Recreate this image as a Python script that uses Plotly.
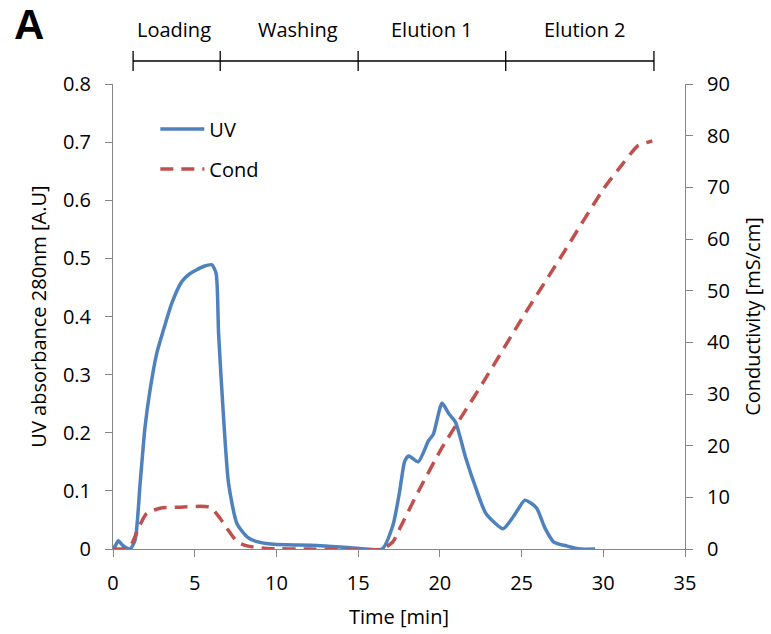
import plotly.graph_objects as go

# UV trace (time [min], absorbance [A.U])
uv_t = [0.0, 0.15, 0.33, 0.6, 1.04, 1.35, 1.66, 1.96, 2.27, 2.68, 3.09, 3.6, 4.21, 4.72, 5.54, 6.05,
        6.31, 6.46, 6.76, 7.07, 7.58, 8.2, 8.81, 9.83, 12.5, 15.1, 16.46, 17.13, 17.54, 17.85, 18.1,
        18.68, 19.3, 19.61, 20.13, 20.54, 20.96, 21.58, 22.2, 22.82, 23.86, 24.48, 25.2, 25.52, 25.93,
        26.45, 26.97, 27.79, 28.6, 29.5]
uv_v = [0.0, 0.006, 0.014, 0.006, 0.0, 0.015, 0.113, 0.21, 0.274, 0.337, 0.377, 0.423, 0.46, 0.474,
        0.486, 0.489, 0.474, 0.371, 0.228, 0.113, 0.044, 0.021, 0.0126, 0.008, 0.006, 0.001, 0.0, 0.041,
        0.099, 0.151, 0.160, 0.150, 0.186, 0.198, 0.251, 0.233, 0.218, 0.157, 0.105, 0.061, 0.035,
        0.055, 0.084, 0.080, 0.070, 0.035, 0.012, 0.005, 0.0, 0.0]

# Conductivity trace (time [min], mS/cm)
cond_t = [0.0, 1.0, 1.55, 2.06, 2.88, 4.0, 5.95, 6.56, 6.97, 7.6, 8.2, 9.4, 12.0, 16.46, 17.13, 17.6,
          18.68, 20.13, 21.5, 22.6, 25.0, 27.5, 30.06, 31.2, 32.1, 32.7, 33.0]
cond_v = [0.0, 0.3, 4.0, 6.9, 7.9, 8.1, 8.07, 5.9, 4.0, 1.4, 0.6, 0.1, 0.0, 0.0, 1.4, 4.3,
          11.1, 19.6, 26.5, 32.0, 44.5, 57.0, 69.9, 74.6, 78.0, 78.7, 79.0]

# Process phases
phase_bounds = [1.23, 6.56, 15.0, 24.03, 33.1]
phase_labels = ["Loading", "Washing", "Elution 1", "Elution 2"]
phase_label_t = [3.74, 11.34, 19.5, 28.9]

FONT = "Open Sans"
AXIS_COLOR = "#868686"

fig = go.Figure()
fig.add_trace(go.Scatter(x=uv_t, y=uv_v, name="UV", mode="lines", legendgroup="a",
                         line=dict(color="#4F81BD", width=3.5, shape="spline", smoothing=0.6)))
fig.add_trace(go.Scatter(x=cond_t, y=cond_v, name="Cond", mode="lines", yaxis="y2", legendgroup="b",
                         line=dict(color="#C0504D", width=3.5, dash="13px,8px", shape="spline",
                                   smoothing=0.6)))

shapes = []
bar_y = 1.0495
shapes.append(dict(type="line", xref="x", yref="paper", x0=phase_bounds[0], x1=phase_bounds[-1],
                   y0=bar_y, y1=bar_y, line=dict(color="#000000", width=1.3)))
for b in phase_bounds:
    shapes.append(dict(type="line", xref="x", yref="paper", x0=b, x1=b, y0=1.028, y1=1.071,
                       line=dict(color="#000000", width=1.3)))

annotations = []
for lab, t in zip(phase_labels, phase_label_t):
    annotations.append(dict(text=lab, x=t, y=1.118, xref="x", yref="paper", showarrow=False,
                            font=dict(family=FONT, size=20, color="#000"), xanchor="center",
                            yanchor="middle"))
annotations.append(dict(text="<b>A</b>", x=-0.147, y=1.127, xref="paper", yref="paper",
                        showarrow=False, font=dict(family="Liberation Sans", size=42, color="#000"),
                        xanchor="center", yanchor="middle"))

axis_common = dict(showline=True, linecolor=AXIS_COLOR, linewidth=1, ticks="outside",
                   tickcolor=AXIS_COLOR, ticklen=7, showgrid=False, zeroline=False,
                   automargin=False,
                   tickfont=dict(family=FONT, size=20, color="#000"))

fig.update_layout(
    width=771, height=634,
    margin=dict(l=113, r=86, t=84, b=85, autoexpand=False),
    plot_bgcolor="white", paper_bgcolor="white",
    font=dict(family=FONT, size=20, color="#000"),
    xaxis=dict(range=[0, 35], dtick=5, ticklabelstandoff=9,
               title=dict(text="Time [min]", standoff=14, font=dict(family=FONT, size=20)),
               **axis_common),
    yaxis=dict(range=[0, 0.8], tickvals=[0, 0.1, 0.2, 0.3, 0.4, 0.5, 0.6, 0.7, 0.8],
               ticktext=["0", "0.1", "0.2", "0.3", "0.4", "0.5", "0.6", "0.7", "0.8"],
               ticklabelstandoff=10,
               title=dict(text="UV absorbance 280nm [A.U]", standoff=10,
                          font=dict(family=FONT, size=20)), **axis_common),
    yaxis2=dict(range=[0, 90], dtick=10, overlaying="y", side="right", ticklabelstandoff=10,
                title=dict(text="Conductivity [mS/cm]", standoff=17,
                           font=dict(family=FONT, size=20)), **axis_common),
    legend=dict(x=0.074, y=0.945, xanchor="left", yanchor="top", bgcolor="rgba(0,0,0,0)",
                font=dict(family=FONT, size=20), tracegroupgap=11, traceorder="grouped",
                itemwidth=44),
    shapes=shapes,
    annotations=annotations,
)

fig.write_html("out.html")
